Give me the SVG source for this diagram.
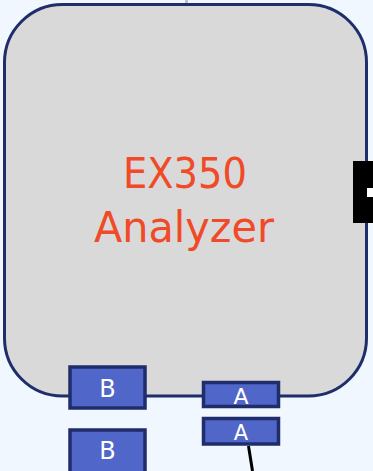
<svg xmlns="http://www.w3.org/2000/svg" width="373" height="471" viewBox="0 0 373 471">
<style>
.port{fill:#5066c8;stroke:#1f2d6b;stroke-width:3.5}
.pt{font-family:"DejaVu Sans",sans-serif;fill:#ffffff;text-anchor:middle}
.title{font-family:"DejaVu Sans",sans-serif;font-size:42px;fill:#f04a28;text-anchor:middle}
</style>
<rect width="373" height="471" fill="#f0f7ff"/>
<g id="connectors">
<line x1="186.5" y1="0" x2="186.5" y2="13" stroke="#c0c0c0" stroke-width="3"/>
<line x1="248.5" y1="446" x2="252.5" y2="471" stroke="#000000" stroke-width="3"/>
</g>
<g id="analyzer">
<rect x="4.5" y="4.5" width="362" height="391.5" rx="58" ry="58" fill="#d9d9d9" stroke="#1f2d6b" stroke-width="3"/>
<text class="title" x="185" y="188" textLength="124" lengthAdjust="spacingAndGlyphs">EX350</text>
<text class="title" x="184" y="242" textLength="180" lengthAdjust="spacingAndGlyphs">Analyzer</text>
</g>
<g id="side-block">
<rect x="353" y="161" width="20" height="62" fill="#000000"/>
<rect x="367" y="188" width="6" height="9" fill="#ffffff"/>
</g>
<g id="port-b1">
<rect class="port" x="70" y="367" width="75" height="41"/>
<text class="pt" x="107.5" y="397" font-size="24">B</text>
</g>
<g id="port-b2">
<rect class="port" x="70" y="430" width="75" height="45"/>
<text class="pt" x="107.5" y="459" font-size="24">B</text>
</g>
<g id="port-a1">
<rect class="port" x="203.5" y="382.5" width="75" height="24"/>
<text class="pt" x="241" y="404" font-size="22">A</text>
</g>
<g id="port-a2">
<rect class="port" x="203.5" y="418.5" width="75" height="25.5"/>
<text class="pt" x="241" y="440" font-size="21">A</text>
</g>
</svg>
